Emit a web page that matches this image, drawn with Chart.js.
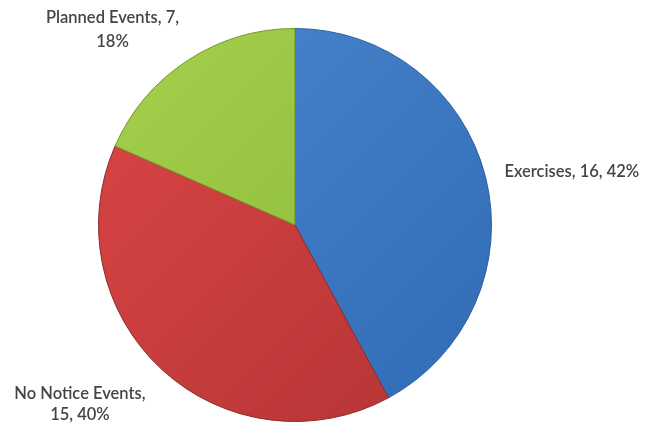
<!DOCTYPE html>
<html>
<head>
<meta charset="utf-8">
<script src="https://cdn.jsdelivr.net/npm/chart.js@4"></script>
<style>
  html, body { margin: 0; padding: 0; background: #fff; }
  #wrap { width: 646px; height: 429px; position: relative; }
</style>
</head>
<body>
<div id="wrap"><canvas id="pieChart"></canvas></div>
<script>
// chart data
const categories = ['Exercises', 'No Notice Events', 'Planned Events'];
const counts = [16, 15, 7];
const percents = [42, 40, 18];

// how each label is split into lines
const labelLines = [
    c => [`${categories[c]}, ${counts[c]}, ${percents[c]}%`],
    c => [`${categories[c]},`, `${counts[c]}, ${percents[c]}%`],
    c => [`${categories[c]}, ${counts[c]},`, `${percents[c]}%`]
];
// label placement relative to the slice edge at its mid angle
const labelOffsets = [
    { dx: 19, dy: -5, align: 'left', lh: 23 },
    { dx: -82, dy: 35, align: 'center', lh: 21 },
    { dx: -75, dy: -31, align: 'center', lh: 24 }
];
const sliceColors = [
    ['#4b87cf', '#2f6ab4'],
    ['#dc4646', '#b33334'],
    ['#a6d04c', '#86b536']
];
const edgeColors = ['#2c5f9e', '#8f2a2a', '#6f9a2c'];

function sliceFill(ctx) {
    const chart = ctx.chart;
    const area = chart.chartArea;
    if (!area) return sliceColors[ctx.dataIndex][0];
    const g = chart.ctx.createLinearGradient(area.left, area.top, area.right, area.bottom);
    g.addColorStop(0, sliceColors[ctx.dataIndex][0]);
    g.addColorStop(1, sliceColors[ctx.dataIndex][1]);
    return g;
}

// draws the outside data labels next to each slice
const outsideLabels = {
    id: 'outsideLabels',
    afterDatasetsDraw(chart) {
        const ctx = chart.ctx;
        const meta = chart.getDatasetMeta(0);
        ctx.save();
        ctx.font = '600 16.5px Lato, "Open Sans", sans-serif';
        ctx.fillStyle = '#454545';
        ctx.textBaseline = 'middle';
        meta.data.forEach((arc, i) => {
            const mid = (arc.startAngle + arc.endAngle) / 2;
            const ex = arc.x + Math.cos(mid) * arc.outerRadius;
            const ey = arc.y + Math.sin(mid) * arc.outerRadius;
            const off = labelOffsets[i];
            const lines = labelLines[i](i);
            ctx.textAlign = off.align;
            lines.forEach((t, k) => {
                const y = ey + off.dy + (k - (lines.length - 1) / 2) * off.lh;
                ctx.fillText(t, ex + off.dx, y);
            });
        });
        ctx.restore();
    }
};

new Chart(document.getElementById('pieChart').getContext('2d'), {
    type: 'pie',
    data: {
        labels: categories,
        datasets: [{
            data: counts,
            backgroundColor: sliceFill,
            borderColor: edgeColors,
            borderWidth: 1
        }]
    },
    options: {
        responsive: true,
        maintainAspectRatio: false,
        animation: false,
        layout: { padding: { left: 98, right: 154, top: 28, bottom: 7 } },
        plugins: {
            legend: { display: false },
            tooltip: { enabled: false }
        }
    },
    plugins: [outsideLabels]
});
</script>
</body>
</html>
